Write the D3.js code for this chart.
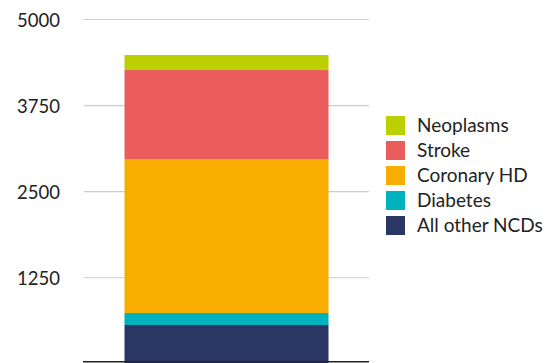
<!DOCTYPE html>
<html><head><meta charset="utf-8">
<script src="https://cdn.jsdelivr.net/npm/d3@7"></script>
<style>body{margin:0;background:#fff}svg{display:block}text{font-family:Lato,sans-serif}</style>
</head><body>
<svg id="c" width="557" height="363"></svg>
<script>
const categories = ["Total"];
const seriesNames = ["All other NCDs","Diabetes","Coronary HD","Stroke","Neoplasms"];
const otherNCDs = [563];
const diabetes = [175];
const coronaryHD = [2236];
const stroke = [1292];
const neoplasms = [218];
const colors = ["#2A3663","#00B2BD","#F7AE00","#EB5C5C","#BCCF00"];
const tickValues = [0,1250,2500,3750,5000];

const svg = d3.select("#c");
const x = d3.scaleBand().domain(categories).range([84,369]).paddingInner(0).paddingOuter(0.1985);
const y = d3.scaleLinear().domain([0,5000]).range([363.8,19.5]);

const rows = categories.map((c,i)=>({cat:c,"All other NCDs":otherNCDs[i],"Diabetes":diabetes[i],"Coronary HD":coronaryHD[i],"Stroke":stroke[i],"Neoplasms":neoplasms[i]}));
const stack = d3.stack().keys(seriesNames)(rows);

// grid
svg.append("g").selectAll("line").data(tickValues.filter(d=>d>0)).join("line")
  .attr("x1",84).attr("x2",369).attr("y1",d=>y(d)).attr("y2",d=>y(d))
  .attr("stroke","#cccccc").attr("stroke-width",1.2);
svg.append("g").selectAll("text").data(tickValues.filter(d=>d>0)).join("text")
  .attr("x",60).attr("y",d=>y(d)+7).attr("text-anchor","end")
  .attr("font-size",18.5).attr("fill","#222").text(d=>d);

// bars
svg.append("g").selectAll("g").data(stack).join("g").attr("fill",(d,i)=>colors[i])
  .selectAll("rect").data(d=>d).join("rect")
  .attr("x",d=>x(d.data.cat)).attr("width",x.bandwidth())
  .attr("y",d=>y(d[1])).attr("height",d=>y(d[0])-y(d[1]));

// baseline
svg.append("line").attr("x1",83).attr("x2",369).attr("y1",361.8).attr("y2",361.8)
  .attr("stroke","#222").attr("stroke-width",1.5);

// legend
const legendOrder = seriesNames.map((n,i)=>({n,c:colors[i]})).reverse();
const lg = svg.append("g").selectAll("g").data(legendOrder).join("g")
  .attr("transform",(d,i)=>`translate(386,${116+i*25})`);
lg.append("rect").attr("width",19).attr("height",19).attr("fill",d=>d.c);
lg.append("text").attr("x",31).attr("y",15.5)
  .attr("font-size",19).attr("fill","#222").text(d=>d.n);
</script>
</body></html>
